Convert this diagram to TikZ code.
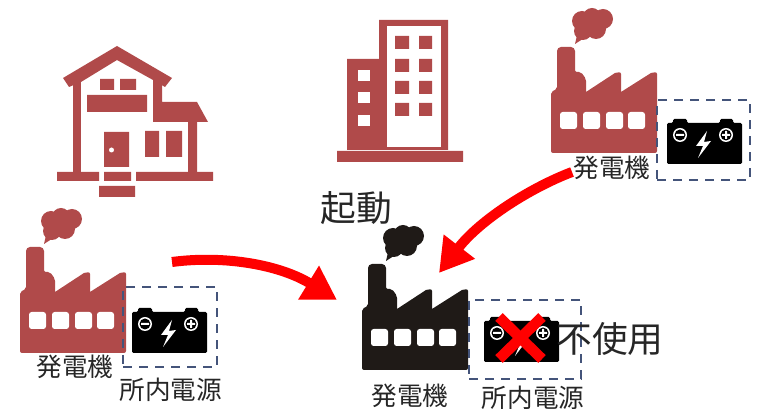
\documentclass[tikz,border=0pt]{standalone}
\usepackage{fontspec}
\newfontfamily\jpfont{Noto Sans CJK JP}
\usetikzlibrary{arrows.meta}
\definecolor{brickred}{HTML}{B04A4A}
\definecolor{plantblack}{HTML}{1F1A17}
\definecolor{boxblue}{HTML}{44547A}
\definecolor{labelgray}{HTML}{262626}

\begin{document}
\begin{tikzpicture}[
      x=0.75pt,y=-0.75pt,
      small label/.style ={text=labelgray,inner sep=0pt,font=\jpfont\fontsize{19.2}{20}\selectfont},
      big label/.style ={text=labelgray,inner sep=0pt,font=\jpfont\fontsize{26.8}{28}\selectfont},
      power box/.style ={draw=boxblue,line width=2.2pt,dash pattern=on 7pt off 5pt},
      start arrow/.style ={draw=red,line width=7.5pt,-{Triangle[length=25pt,width=28pt]}},
      pics/factory/.style ={code={
        \fill[#1,rounded corners=1.5] (0,0) -- (0,-61) -- (6,-64) -- (6,-100) [rounded corners=3] -- (6,-106) -- (24,-106) [rounded corners=1.5] -- (24,-81) -- (30,-81) -- (35,-74) [sharp corners] -- (35,-61) -- (64,-80) [rounded corners=1.5] -- (70,-81) [sharp corners] -- (70,-61) -- (100,-80) [rounded corners=1.5] -- (106,-81) -- (106,0) -- cycle;
        \fill[#1] (31,-132) circle [radius=10] (41,-136) circle [radius=9] (52,-134) circle [radius=10] (45,-124) circle [radius=10] (32,-122) circle [radius=9] (40,-129) circle [radius=10];
        \fill[#1] (27,-122) -- (38,-118) -- (24,-109) -- cycle;
        \foreach \winx in {9,32,55,77}
          \fill[white,rounded corners=2] (\winx,-41) rectangle ++(17,17);
      }},
      pics/battery/.style ={code={
        \fill[black,rounded corners=1] (0,0) -- (0,-41) -- (6,-41) -- (6,-45) -- (20,-45) -- (20,-41) -- (53,-41) -- (53,-45) -- (66,-45) -- (66,-41) -- (75,-41) -- (75,0) -- cycle;
        \fill[white] (13,-29) circle [radius=7] (59,-29) circle [radius=7];
        \fill[black] (13,-29) circle [radius=5.5] (59,-29) circle [radius=5.5];
        \fill[white] (9,-30) rectangle (17,-28) (55,-30) rectangle (63,-28) (58,-33) rectangle (60,-25);
        \fill[white] (40,-33) -- (29,-18) -- (36,-18) -- (31,-6) -- (44,-23) -- (37,-22) -- cycle;
      }}]
    \useasboundingbox (0,0) rectangle (758,409);

    % house
    \fill[brickred] (117,46) -- (172,78) -- (165,87) -- (153,80) -- (117,60) -- (81,82) -- (69,87) -- (63,78) -- cycle;
    \fill[brickred] (73,80) rectangle (81,172);
    \fill[brickred] (153,80) -- (162,80) -- (162,102) -- (197,102) -- (208,122) -- (197,122) -- (197,172) -- (188,172) -- (188,122) -- (153,122) -- cycle;
    \fill[brickred] (57,172) rectangle (99,181) (104,172) rectangle (131,181) (136,172) rectangle (213,181) (99,186) rectangle (135,197);
    \fill[brickred] (100,79) rectangle (114,90) (120,79) rectangle (136,90) (87,95) rectangle (147,112);
    \fill[brickred] (104,132) rectangle (129,167) (145,131) rectangle (159,157) (166,131) rectangle (182,157);
    \fill[white] (111.5,150) circle [radius=2.5];

    % building
    \fill[brickred] (379,20) rectangle (448,150) (347,59) rectangle (379,150) (337,151) rectangle (463,162);
    \fill[white] (387,26) rectangle (441,147);
    \foreach \winy in {36,59,81,103}
      \fill[brickred] (395,\winy) rectangle ++(14,13) (419,\winy) rectangle ++(13,13);
    \foreach \winy in {70,92,115}
      \fill[white] (358,\winy) rectangle ++(12,11);

    % factories
    \pic at (551,153) {factory=brickred};
    \pic at (20,353) {factory=brickred};
    \pic at (362,370) {factory=plantblack};

    % batteries
    \node[power box,minimum width=69.75pt,minimum height=60pt,inner sep=0pt] (boxright) at (703.5,140) {};
    \node[power box,minimum width=70.5pt,minimum height=60pt,inner sep=0pt] (boxleft) at (170,327) {};
    \node[power box,minimum width=84pt,minimum height=59.25pt,inner sep=0pt] (boxcenter) at (525,339.5) {};
    \pic at (667,164) {battery};
    \pic at (132,353) {battery};
    \pic at (484,362) {battery};

    % cross
    \coordinate (crossa) at (499,317);
    \coordinate (crossb) at (542,359);
    \coordinate (crossc) at (542,317);
    \coordinate (crossd) at (499,359);
    \draw[red,line width=8pt] (crossa) -- (crossb);
    \draw[red,line width=8pt] (crossc) -- (crossd);

    % labels
    \node[small label] (genright) at (612,168) {発電機};
    \node[small label] (genleft) at (75,367) {発電機};
    \node[small label] (gencenter) at (410,396) {発電機};
    \node[small label] (sourceleft) at (171,390) {所内電源};
    \node[small label] (sourcecenter) at (533,398) {所内電源};
    \node[big label] (startup) at (356,208) {起動};
    \node[big label] (unused) at (610,339) {不使用};

    % arrows
    \coordinate (fromleft) at (172,262);
    \coordinate (fromright) at (572,172);
    \coordinate (target) at (337,300);
    \coordinate (targettop) at (439,273);
    \draw[start arrow] (fromleft) .. controls (225,255) and (280,265) .. (target);
    \draw[start arrow] (fromright) .. controls (530,188) and (480,220) .. (targettop);
\end{tikzpicture}
\end{document}
